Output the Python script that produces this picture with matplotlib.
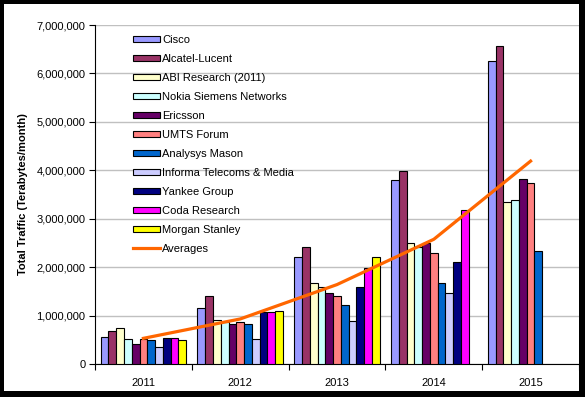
import matplotlib
matplotlib.use("Agg")
import matplotlib.pyplot as plt
from matplotlib.patches import Rectangle, Patch
from matplotlib.lines import Line2D
from matplotlib.ticker import FuncFormatter, MultipleLocator
import numpy as np

plt.rcParams["font.family"] = ["Liberation Sans", "DejaVu Sans"]

years = ["2011", "2012", "2013", "2014", "2015"]

sources = ["Cisco", "Alcatel-Lucent", "ABI Research (2011)", "Nokia Siemens Networks",
           "Ericsson", "UMTS Forum", "Analysys Mason", "Informa Telecoms & Media",
           "Yankee Group", "Coda Research", "Morgan Stanley"]

colors = ["#9999FF", "#993366", "#FFFFCC", "#CCFFFF", "#660066", "#FF8080",
          "#0066CC", "#CCCCFF", "#000080", "#FF00FF", "#FFFF00"]

# Terabytes/month, None where a source has no forecast
cisco = [551000, 1150000, 2200000, 3790000, 6250000]
alcatel = [675000, 1400000, 2410000, 3980000, 6560000]
abi = [737000, 915000, 1670000, 2490000, 3345000]
nsn = [523000, 867000, 1580000, 2420000, 3380000]
ericsson = [406000, 820000, 1460000, 2490000, 3810000]
umts = [509000, 860000, 1400000, 2290000, 3740000]
analysys = [489000, 820000, 1210000, 1670000, 2330000]
informa = [344000, 510000, 880000, 1460000, None]
yankee = [530000, 1070000, 1580000, 2100000, None]
coda = [530000, 1070000, 1990000, 3190000, None]
morgan = [489000, 1090000, 2200000, None, None]

averages = [530000, 930000, 1640000, 2575000, 4190000]

series = [cisco, alcatel, abi, nsn, ericsson, umts, analysys, informa, yankee, coda, morgan]

W, H = 585, 397
fig = plt.figure(figsize=(W / 100, H / 100), dpi=100)
fig.patch.set_facecolor("black")
fig.add_artist(Rectangle((4 / W, 6 / H), 575 / W, 387 / H, transform=fig.transFigure,
                         facecolor="white", edgecolor="none", zorder=0))

ax = fig.add_axes([95 / W, 33 / H, 484 / W, 339 / H])
ax.set_facecolor("none")

n = len(sources)
gap = 1.44
bw = 1.0 / (n + gap)
x = np.arange(len(years))
for i, (vals, c) in enumerate(zip(series, colors)):
    xs = [xi for xi, v in zip(x, vals) if v is not None]
    vs = [v for v in vals if v is not None]
    offs = -0.5 + (gap / 2) * bw + (i + 0.5) * bw
    ax.bar(np.array(xs) + offs, vs, width=bw, color=c, edgecolor="black",
           linewidth=0.8, zorder=3)

ax.plot(x, averages, color="#FF6600", linewidth=2.3, zorder=4)

ax.set_xlim(-0.5, len(years) - 0.5)
ax.set_ylim(0, 7000000)
ax.yaxis.set_major_locator(MultipleLocator(1000000))
ax.yaxis.set_major_formatter(FuncFormatter(lambda v, p: f"{int(v):,}"))
ax.grid(axis="y", color="#C0C0C0", linewidth=1.0, zorder=0)
ax.set_axisbelow(True)

ax.set_xticks(x)
ax.set_xticklabels(years)
ax.set_xticks(np.arange(-0.5, len(years)), minor=True)
ax.tick_params(axis="x", which="major", length=0, pad=10, labelsize=8)
ax.tick_params(axis="x", which="minor", length=4, width=0.8, direction="out")
ax.tick_params(axis="y", length=4, width=0.8, direction="out", labelsize=8, pad=3)

for s in ["top", "right"]:
    ax.spines[s].set_visible(False)
ax.spines["left"].set_linewidth(0.8)
ax.spines["bottom"].set_linewidth(0.8)

ax.set_ylabel("Total Traffic (Terabytes/month)", fontsize=8, fontweight="bold", labelpad=6)

handles = [Patch(facecolor=c, edgecolor="black", linewidth=0.8) for c in colors]
handles.append(Line2D([0], [0], color="#FF6600", linewidth=2.3))
labels = sources + ["Averages"]
ax.legend(handles, labels, loc="upper left", bbox_to_anchor=(133 / W, 362 / H),
          bbox_transform=fig.transFigure, frameon=False, fontsize=8,
          handlelength=2.4, handleheight=0.5, handletextpad=0.25,
          labelspacing=0.81, borderaxespad=0, borderpad=0)

fig.savefig("out.png", dpi=100, facecolor=fig.get_facecolor())
